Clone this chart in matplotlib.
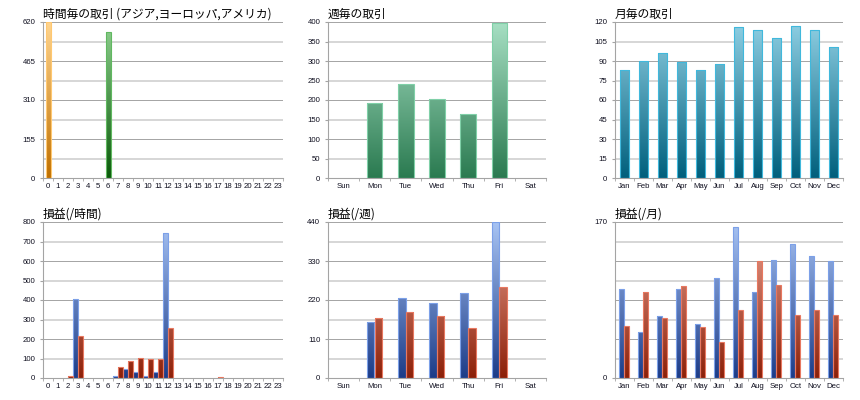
import numpy as np
import matplotlib
matplotlib.use('Agg')
import matplotlib.pyplot as plt
from matplotlib.colors import LinearSegmentedColormap

plt.rcParams['font.family'] = ['Liberation Sans', 'DejaVu Sans']
title_font = ['Noto Sans CJK JP', 'DejaVu Sans']

hours = [str(h) for h in range(24)]
days = ['Sun', 'Mon', 'Tue', 'Wed', 'Thu', 'Fri', 'Sat']
months = ['Jan', 'Feb', 'Mar', 'Apr', 'May', 'Jun', 'Jul', 'Aug', 'Sep', 'Oct', 'Nov', 'Dec']

# trades per hour, coloured by market session
hourly_trades = [620, 0, 0, 0, 0, 0, 580, 0, 0, 0, 0, 0,
                 0, 0, 0, 0, 0, 0, 0, 0, 0, 0, 0, 0]
hourly_session = ['asia'] * 6 + ['europe'] * 6 + ['america'] * 12
weekly_trades = [0, 193, 240, 202, 164, 398, 0]
monthly_trades = [83, 90, 96, 89, 83, 88, 116, 114, 108, 117, 114, 101]

# profit / loss
hourly_gain = [0, 0, 0, 405, 0, 0, 0, 8, 46, 32, 8, 32,
               745, 0, 0, 0, 0, 0, 0, 0, 0, 0, 0, 0]
hourly_loss = [0, 0, 8, 217, 0, 0, 0, 58, 87, 102, 99, 97,
               258, 0, 0, 0, 0, 7, 0, 0, 0, 0, 0, 0]
weekly_gain = [0, 158, 226, 211, 240, 439, 0]
weekly_loss = [0, 168, 186, 174, 142, 258, 0]
monthly_gain = [97, 50.5, 68, 97, 58.5, 108.5, 164.5, 93.5, 129, 146.5, 132.5, 127.5]
monthly_loss = [56.5, 94, 65.5, 100, 56, 39, 74, 128, 101, 68.5, 74.5, 68.5]


def cmap(bottom, top):
    return LinearSegmentedColormap.from_list('g', [bottom, top])


styles = {
    'asia': (cmap('#c07000', '#ffd590'), '#ffc870'),
    'europe': (cmap('#0a5a0a', '#90d090'), '#60b860'),
    'america': (cmap('#1c3c88', '#a8c4f4'), '#7ca0e8'),
    'week': (cmap('#2a7a50', '#a8e0c4'), '#80d0a8'),
    'month': (cmap('#005f7c', '#90d0e4'), '#40b8dc'),
    'gain': (cmap('#1c3c88', '#a8c4f4'), '#7ca0e8'),
    'loss': (cmap('#8c2008', '#eca494'), '#e87860'),
}

grad = np.linspace(0, 1, 256).reshape(-1, 1)


def gradient_bars(ax, x, heights, width, keys, ymax):
    for xi, h, key in zip(x, heights, keys):
        if h <= 0:
            continue
        cm, edge = styles[key]
        bar = ax.bar(xi, min(h, ymax), width, color='none', edgecolor=edge,
                     linewidth=0.8, zorder=3)[0]
        x0 = bar.get_x()
        im = ax.imshow(grad, cmap=cm, origin='lower', aspect='auto',
                       extent=[x0, x0 + width, 0, ymax], zorder=2)
        im.set_clip_path(bar)


def style(ax, title, cats, ymax, step, labels=None):
    n = len(cats)
    ax.set_xlim(-0.5, n - 0.5)
    ax.set_ylim(0, ymax)
    for k, y in enumerate(np.arange(0, ymax + 1e-9, step / 2)):
        if k % 2 == 0:
            ax.axhline(y, color='#a4a4a4', lw=0.7, zorder=1)
        else:
            ax.axhline(y, color='#d6d6d6', lw=1.4, zorder=1)
    if labels is None:
        labels = np.arange(0, ymax + 1e-9, step / 2)
    ax.set_yticks(labels)
    ax.set_yticklabels([f'{v:g}' for v in labels])
    ax.set_xticks(np.arange(n))
    ax.set_xticklabels(cats)
    ax.set_xticks(np.arange(n + 1) - 0.5, minor=True)
    ax.tick_params(axis='x', which='major', length=0, pad=3.5, labelsize=5.6, colors='#101020')
    ax.tick_params(axis='x', which='minor', length=2.5, color='#a4a4a4')
    ax.tick_params(axis='y', length=2.5, color='#a4a4a4', pad=3, labelsize=5.6, labelcolor='#101020')
    for s in ['top', 'right']:
        ax.spines[s].set_visible(False)
    for s in ['left', 'bottom']:
        ax.spines[s].set_color('#a4a4a4')
        ax.spines[s].set_linewidth(0.8)
    ax.set_title(title, loc='left', fontsize=8.5, family=title_font, pad=3)


fig = plt.figure(figsize=(8.6, 4), dpi=100)
W, H = 860, 400


def add_axes(x0, x1, y0, y1):
    return fig.add_axes([x0 / W, 1 - y1 / H, (x1 - x0) / W, (y1 - y0) / H])


cols = [(43, 283), (328, 546), (615, 843)]
rows = [(22, 178), (222, 378)]

# top row: trades
ax = add_axes(*cols[0], *rows[0])
gradient_bars(ax, np.arange(24), hourly_trades, 0.5, hourly_session, 620)
style(ax, '時間毎の取引 (アジア,ヨーロッパ,アメリカ)', hours, 620, 155, labels=[0, 155, 310, 465, 620])

ax = add_axes(*cols[1], *rows[0])
gradient_bars(ax, np.arange(7), weekly_trades, 0.5, ['week'] * 7, 400)
style(ax, '週毎の取引', days, 400, 100)

ax = add_axes(*cols[2], *rows[0])
gradient_bars(ax, np.arange(12), monthly_trades, 0.5, ['month'] * 12, 120)
style(ax, '月毎の取引', months, 120, 30)

# bottom row: profit / loss
ax = add_axes(*cols[0], *rows[1])
x = np.arange(24)
gradient_bars(ax, x - 0.245, hourly_gain, 0.47, ['gain'] * 24, 800)
gradient_bars(ax, x + 0.245, hourly_loss, 0.47, ['loss'] * 24, 800)
style(ax, '損益(/時間)', hours, 800, 200)

ax = add_axes(*cols[1], *rows[1])
x = np.arange(7)
gradient_bars(ax, x - 0.13, weekly_gain, 0.24, ['gain'] * 7, 440)
gradient_bars(ax, x + 0.12, weekly_loss, 0.24, ['loss'] * 7, 440)
style(ax, '損益(/週)', days, 440, 110, labels=[0, 110, 220, 330, 440])

ax = add_axes(*cols[2], *rows[1])
x = np.arange(12)
gradient_bars(ax, x - 0.14, monthly_gain, 0.25, ['gain'] * 12, 170)
gradient_bars(ax, x + 0.11, monthly_loss, 0.25, ['loss'] * 12, 170)
style(ax, '損益(/月)', months, 170, 42.5, labels=[0, 170])

fig.savefig('out.png', dpi=100)
